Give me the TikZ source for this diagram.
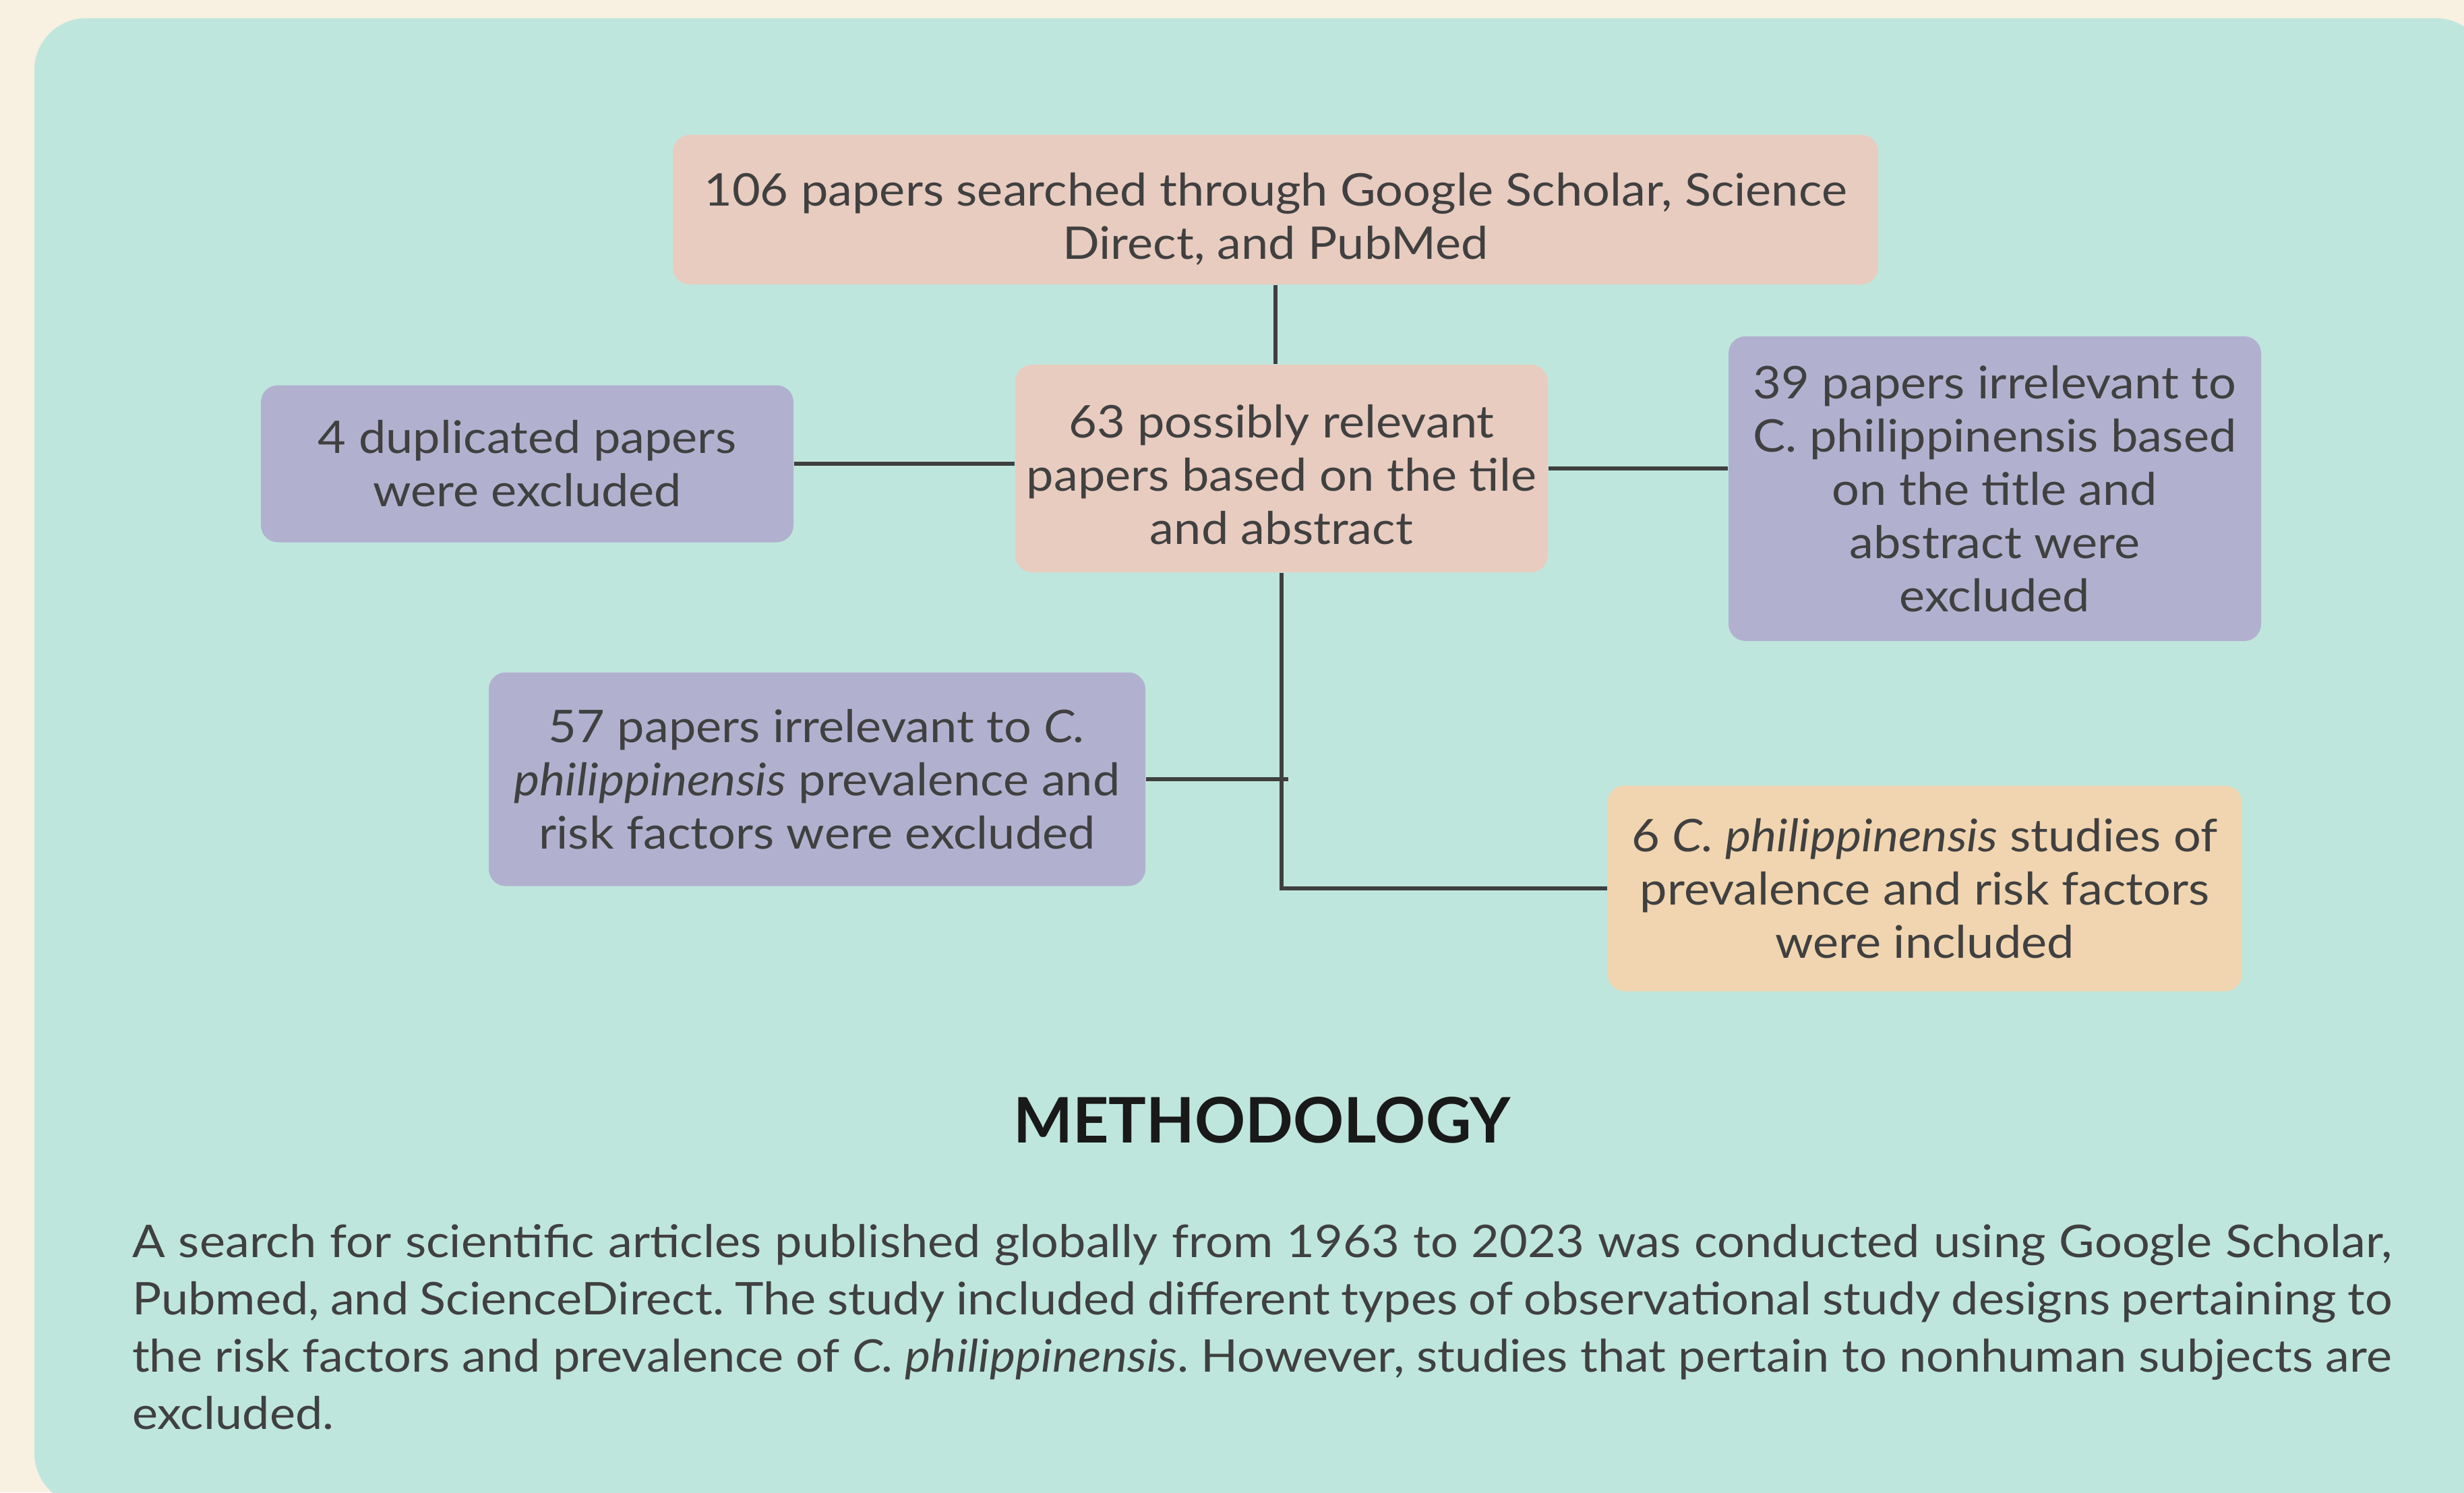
\documentclass[tikz,border=0pt]{standalone}
\usepackage{fontspec}
\setmainfont[FakeStretch=1.08]{Lato}
\newfontfamily\headfont{Lato}
\usepackage{tikz}
\usetikzlibrary{positioning,calc}
\definecolor{cream}{HTML}{F8F0E1}
\definecolor{mint}{HTML}{BFE6DD}
\definecolor{salmon}{HTML}{E8CCC0}
\definecolor{lilac}{HTML}{B1B1CF}
\definecolor{sand}{HTML}{F0D5B0}
\definecolor{ink}{HTML}{404040}
\definecolor{wire}{HTML}{3F3F3F}
\newcommand{\topstrut}[1]{\rule{0pt}{#1}}
\tikzset{
  link/.style={line width=1.45pt,wire},
  box/.style={rounded corners=0.25cm,inner sep=0pt,align=center,text=ink,
    font=\fontsize{19}{22.5}\selectfont},
  stepbox/.style={box,fill=salmon},
  outbox/.style={box,fill=lilac},
  inbox/.style={box,fill=sand},
  labeltext/.style={text=ink,font=\fontsize{19}{24.2}\selectfont}
}

\begin{document}
\frenchspacing
\begin{tikzpicture}[x=1cm,y=1cm]
\useasboundingbox (0,0) rectangle (36.55,-22.14);
\fill[cream] (0,0) rectangle (36.55,-22.14);
\begin{scope}
\clip (0,0) rectangle (36.55,-22.14);
\fill[mint,rounded corners=0.77cm] (0.51,-0.27) rectangle (36.9,-22.33);
\end{scope}
\node[stepbox,minimum width=17.88cm,minimum height=2.22cm] (src) at (18.92,-3.11)
  {\topstrut{0.77cm}106 papers searched through Google Scholar, Science\\Direct, and PubMed};
\node[stepbox,minimum width=7.90cm,minimum height=3.08cm] (mid) at (19.01,-6.95)
  {\topstrut{0.67cm}63 possibly relevant\\papers based on the tile\\and abstract};
\node[outbox,minimum width=7.90cm,minimum height=2.33cm] (dup) at (7.82,-6.88)
  {4 duplicated papers\\were excluded};
\node[outbox,minimum width=7.90cm,minimum height=4.52cm] (irr) at (29.59,-7.25)
  {39 papers irrelevant to\\C. philippinensis based\\on the title and\\abstract were\\excluded};
\node[outbox,minimum width=9.74cm,minimum height=3.17cm] (off) at (12.12,-11.56)
  {57 papers irrelevant to \textit{C.}\\\textit{philippinensis} prevalence and\\risk factors were excluded};
\node[inbox,minimum width=9.41cm,minimum height=3.05cm] (incl) at (28.55,-13.18)
  {6 \textit{C. philippinensis} studies of\\prevalence and risk factors\\were included};
% connectors
\draw[link] (src.south) -- (src.south |- mid.north);
\draw[link] (dup.east) -- (dup.east -| mid.west);
\draw[link] (mid.east) -- (mid.east -| irr.west);
\draw[link] (mid.south) |- (incl.west);
\draw[link] (off.east) -- ($(off.east -| mid.south)+(0.1,0)$);
% caption
\node[font=\headfont\fontsize{26.5}{32}\selectfont\bfseries,text=black!90] (head) at (18.72,-16.62) {METHODOLOGY};
\node[labeltext,text width=33.52cm,align=justify,inner sep=0pt] (body) at (18.72,-19.69)
  {A search for scientific articles published globally from 1963 to 2023 was conducted using Google Scholar,\linebreak
  Pubmed, and ScienceDirect. The study included different types of observational study designs pertaining to\linebreak
  the risk factors and prevalence of \textit{C. philippinensis}. However, studies that pertain to nonhuman subjects are\linebreak
  excluded.};
\end{tikzpicture}
\end{document}
